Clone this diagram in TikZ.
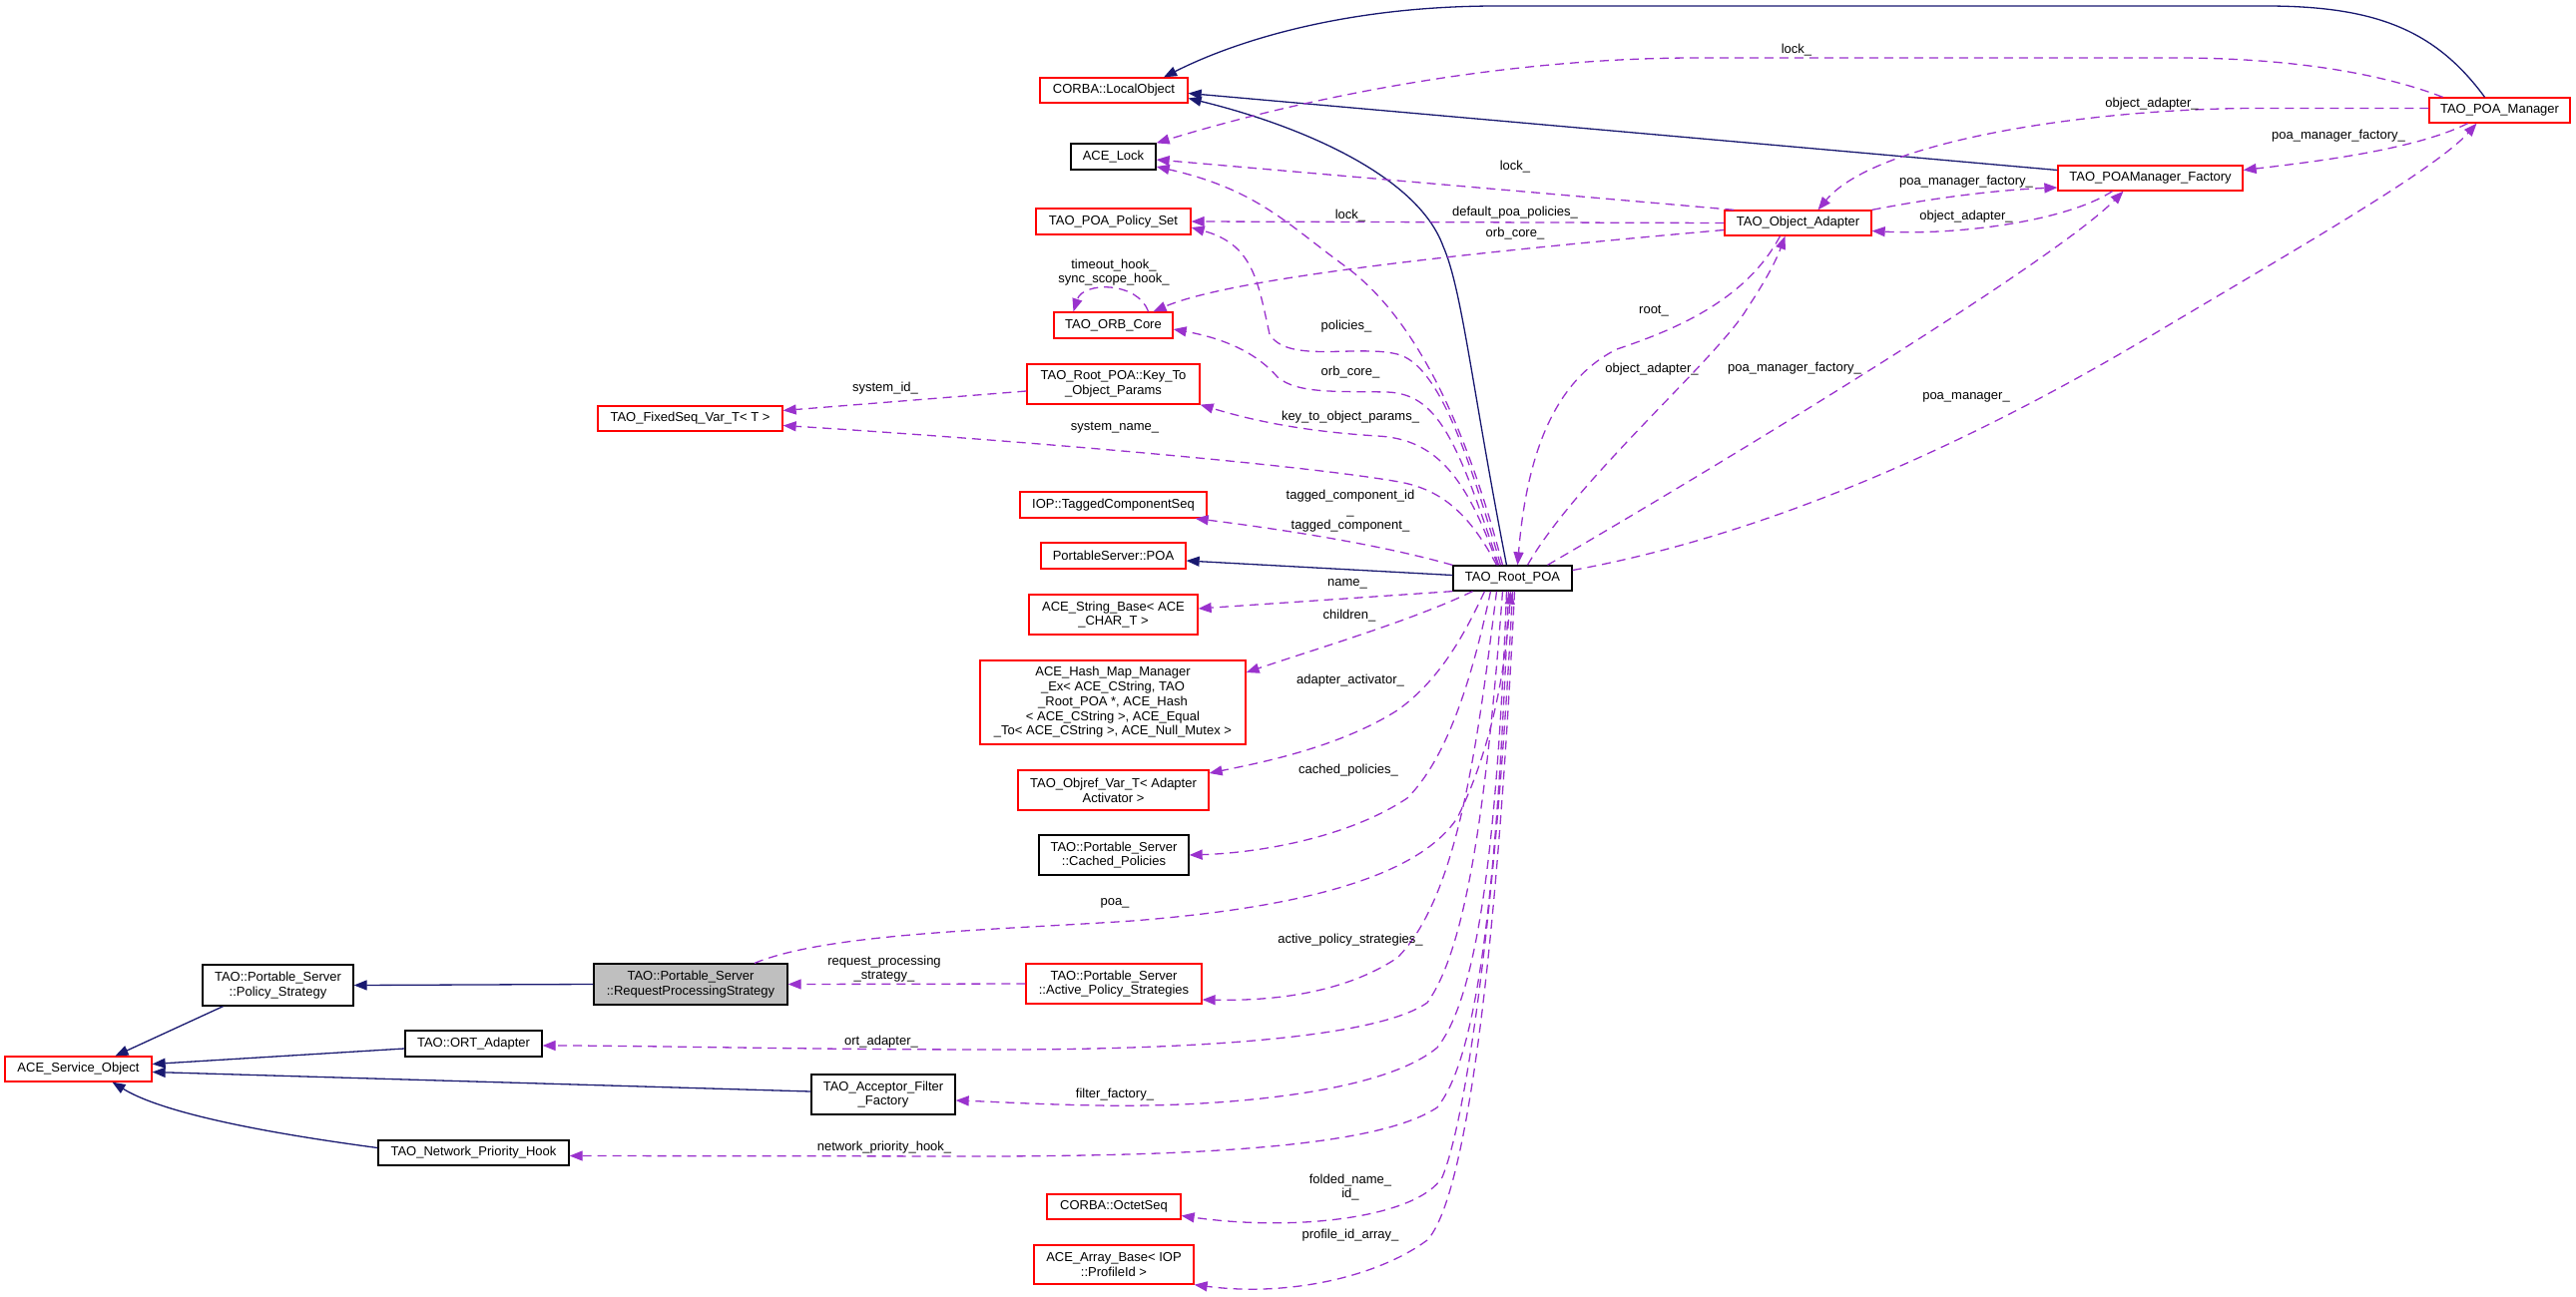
\documentclass[tikz,border=0pt]{standalone}
\usepackage{fontspec}
\setmainfont{Liberation Sans}
\usetikzlibrary{arrows.meta}
\definecolor{inhcol}{HTML}{191970}
\definecolor{usecol}{HTML}{9A32CD}
\definecolor{boxred}{HTML}{FF0000}

\begin{document}
\begin{tikzpicture}[x=1pt, y=-1pt,
    every node/.style={font=\fontsize{13}{14.7}\selectfont, inner sep=0pt, align=center},
    sz/.style 2 args={minimum width=#1pt, minimum height=#2pt},
    cls/.style={draw=boxred, line width=1.3pt, fill=white},
    doc/.style={draw=black, line width=1.3pt, fill=white},
    cur/.style={draw=black, line width=1.3pt, fill=gray!50},
    inh/.style={draw=inhcol, line width=1.3pt, -{Triangle[length=13pt,width=10pt]}},
    usage/.style={draw=usecol, line width=1.3pt, dash pattern=on 9pt off 6pt, -{Triangle[length=13pt,width=10pt]}},
    lbl/.style={text=black}]
      \useasboundingbox (0,0) rectangle (2581,1300);

      % classes
      \node[cls, sz={148}{25}] (corba) at (1116,90.5) {CORBA::LocalObject};
      \node[doc, sz={85}{26}] (lock) at (1115.5,157) {ACE\_Lock};
      \node[cls, sz={155}{26}] (polset) at (1115.5,222) {TAO\_POA\_Policy\_Set};
      \node[cls, sz={119}{26}] (orbcore) at (1115.5,326) {TAO\_ORB\_Core};
      \node[cls, sz={173}{40}] (keyto) at (1115.5,385) {TAO\_Root\_POA::Key\_To\\\_Object\_Params};
      \node[cls, sz={185}{25}] (fixedseq) at (691.5,419.5) {TAO\_FixedSeq\_Var\_T< T >};
      \node[cls, sz={187}{26}] (tagged) at (1115.5,506) {IOP::TaggedComponentSeq};
      \node[cls, sz={145}{26}] (pspoa) at (1115.5,557) {PortableServer::POA};
      \node[cls, sz={169}{40}] (strbase) at (1115.5,616) {ACE\_String\_Base< ACE\\\_CHAR\_T >};
      \node[cls, sz={266}{84}] (hashmap) at (1115,704) {ACE\_Hash\_Map\_Manager\\\_Ex< ACE\_CString, TAO\\\_Root\_POA *, ACE\_Hash\\< ACE\_CString >, ACE\_Equal\\\_To< ACE\_CString >, ACE\_Null\_Mutex >};
      \node[cls, sz={191}{40}] (objref) at (1115.5,792) {TAO\_Objref\_Var\_T< Adapter\\Activator >};
      \node[doc, sz={150}{40}] (cached) at (1116,857) {TAO::Portable\_Server\\::Cached\_Policies};
      \node[cls, sz={176}{40}] (aps) at (1116,986) {TAO::Portable\_Server\\::Active\_Policy\_Strategies};
      \node[cls, sz={134}{25}] (octet) at (1116,1209.5) {CORBA::OctetSeq};
      \node[cls, sz={160}{39}] (arraybase) at (1116,1267.5) {ACE\_Array\_Base< IOP\\::ProfileId >};
      \node[doc, sz={119}{25}] (rpoa) at (1515.5,579.5) {TAO\_Root\_POA};
      \node[cls, sz={147}{25}] (objadapt) at (1801.5,223.5) {TAO\_Object\_Adapter};
      \node[cls, sz={185}{25}] (factory) at (2154.5,178.5) {TAO\_POAManager\_Factory};
      \node[cls, sz={141}{25}] (poamgr) at (2504.5,110.5) {TAO\_POA\_Manager};
      \node[cur, sz={194}{41}] (rps) at (692,986.5) {TAO::Portable\_Server\\::RequestProcessingStrategy};
      \node[doc, sz={151}{41}] (polstrat) at (278.5,987.5) {TAO::Portable\_Server\\::Policy\_Strategy};
      \node[cls, sz={147}{25}] (svcobj) at (78.5,1071.5) {ACE\_Service\_Object};
      \node[doc, sz={137}{26}] (ort) at (474.5,1046) {TAO::ORT\_Adapter};
      \node[doc, sz={144}{40}] (acceptor) at (885,1097) {TAO\_Acceptor\_Filter\\\_Factory};
      \node[doc, sz={191}{25}] (nph) at (474.5,1155.5) {TAO\_Network\_Priority\_Hook};

      % inheritance
      \draw[inh] ([xshift=-15pt]poamgr.north) .. controls (2440,30) and (2380,6) .. (2270,6) -- (1500,6) .. controls (1350,6) and (1240,40) .. ([xshift=50pt]corba.north);
      \draw[inh] ([yshift=8pt]factory.west) -- ([yshift=-3pt]corba.east);
      \draw[inh] ([xshift=-6pt]rpoa.north) .. controls (1475,390) and (1465,290) .. (1446,247) .. controls (1420,175) and (1300,125) .. ([yshift=-8pt]corba.east);
      \draw[inh] ([yshift=3pt]rpoa.west) -- ([yshift=-5pt]pspoa.east);
      \draw[inh] (rps.west) -- (polstrat.east);
      \draw[inh] ([xshift=-55pt]polstrat.south) -- ([xshift=37pt]svcobj.north);
      \draw[inh] ([yshift=-5pt]ort.west) -- ([yshift=5pt]svcobj.east);
      \draw[inh] ([yshift=3pt]acceptor.west) -- ([yshift=-3pt]svcobj.east);
      \draw[inh] ([yshift=5pt]nph.west) .. controls (300,1140) and (170,1120) .. ([xshift=34pt]svcobj.south);

      % members
      \draw[usage] ([xshift=-57pt]poamgr.north) .. controls (2390,75) and (2300,58) .. (2180,58) -- (1700,58) .. controls (1500,58) and (1300,100) .. (lock.north east);
      \draw[usage] ([yshift=2pt]poamgr.west) -- (2262,108.5) .. controls (2100,108.5) and (1880,140) .. ([xshift=20pt]objadapt.north);
      \draw[usage] ([xshift=-32pt]poamgr.south) .. controls (2420,150) and (2320,162) .. ([yshift=8pt]factory.east);
      \draw[usage] (objadapt.north east) .. controls (1950,196) and (2010,190) .. ([yshift=-9.5pt]factory.west);
      \draw[usage] ([xshift=-38pt]factory.south) .. controls (2070,222) and (1960,236) .. ([yshift=-8pt]objadapt.east);
      \draw[usage] ([xshift=10pt]objadapt.north west) -- ([yshift=-3pt]lock.east);
      \draw[usage] (objadapt.west) -- (polset.east);
      \draw[usage] ([yshift=-7pt]objadapt.west) .. controls (1450,255) and (1230,280) .. ([xshift=40pt]orbcore.north);
      \draw[usage] ([xshift=35pt]orbcore.north) .. controls (1140,282) and (1085,282) .. ([xshift=-40pt]orbcore.north);
      \draw[usage] ([xshift=-10pt]rpoa.north) .. controls (1470,430) and (1420,320) .. (1348,267) .. controls (1290,225) and (1260,190) .. ([yshift=-10pt]lock.east);
      \draw[usage] ([xshift=-12pt]rpoa.north) .. controls (1470,450) and (1440,365) .. (1400,355) .. controls (1360,345) and (1290,365) .. (1272,335) .. controls (1260,280) and (1255,245) .. ([yshift=-6pt]polset.east);
      \draw[usage] ([xshift=-14pt]rpoa.north) .. controls (1460,440) and (1440,395) .. (1390,393) .. controls (1340,392) and (1300,395) .. (1280,378) .. controls (1260,355) and (1230,340) .. ([yshift=-4pt]orbcore.east);
      \draw[usage] ([xshift=-15pt]rpoa.north) .. controls (1470,480) and (1440,440) .. (1380,437) .. controls (1300,432) and (1250,420) .. (keyto.south east);
      \draw[usage] ([yshift=-7pt]keyto.west) -- ([yshift=8pt]fixedseq.east);
      \draw[usage] ([xshift=-16pt]rpoa.north) .. controls (1470,510) and (1440,490) .. (1402,483) .. controls (1300,465) and (1000,440) .. ([yshift=-7pt]fixedseq.east);
      \draw[usage] (rpoa.north west) .. controls (1380,545) and (1280,530) .. ([xshift=-12pt]tagged.south east);
      \draw[usage] (rpoa.south west) -- ([yshift=6pt]strbase.east);
      \draw[usage] ([xshift=-40pt]rpoa.south) .. controls (1420,620) and (1320,650) .. ([yshift=30pt]hashmap.east);
      \draw[usage] ([xshift=-28pt]rpoa.south) .. controls (1470,630) and (1445,680) .. (1400,712) .. controls (1340,750) and (1260,765) .. ([yshift=17pt]objref.east);
      \draw[usage] ([xshift=-22pt]rpoa.south) .. controls (1475,680) and (1450,760) .. (1410,800) .. controls (1350,840) and (1260,855) .. (cached.east);
      \draw[usage] ([xshift=64pt]rps.north) .. controls (830,935) and (1000,932) .. (1134,923) .. controls (1300,910) and (1420,880) .. (1460,820) .. controls (1500,740) and (1510,650) .. ([xshift=-2pt]rpoa.south);
      \draw[usage] (aps.west) -- (rps.east);
      \draw[usage] ([xshift=-16pt]rpoa.south) .. controls (1480,750) and (1460,900) .. (1400,960) .. controls (1340,1000) and (1260,1003) .. ([yshift=-16pt]aps.east);
      \draw[usage] ([xshift=-10pt]rpoa.south) .. controls (1490,800) and (1470,950) .. (1430,1005) .. controls (1380,1040) and (1200,1052) .. (1000,1052) .. controls (800,1052) and (650,1048) .. ([yshift=-2pt]ort.east);
      \draw[usage] ([xshift=-6pt]rpoa.south) .. controls (1500,850) and (1480,1000) .. (1440,1050) .. controls (1380,1100) and (1200,1110) .. (1100,1108) .. controls (1040,1107) and (990,1104) .. ([yshift=-6pt]acceptor.east);
      \draw[usage] ([xshift=-4pt]rpoa.south) .. controls (1500,900) and (1480,1060) .. (1440,1110) .. controls (1380,1150) and (1200,1158) .. (1000,1159) -- ([yshift=-3pt]nph.east);
      \draw[usage] (rpoa.south) .. controls (1500,900) and (1470,1120) .. (1445,1180) .. controls (1420,1220) and (1300,1235) .. ([yshift=-9pt]octet.east);
      \draw[usage] ([xshift=2pt]rpoa.south) .. controls (1500,950) and (1470,1200) .. (1430,1243) .. controls (1380,1280) and (1290,1300) .. (arraybase.south east);
      \draw[usage] ([xshift=-18pt]objadapt.south) .. controls (1750,300) and (1680,330) .. (1620,350) .. controls (1560,380) and (1530,450) .. ([xshift=5pt]rpoa.north);
      \draw[usage] ([xshift=15pt]rpoa.north) .. controls (1580,480) and (1720,360) .. (1750,310) .. controls (1770,280) and (1780,260) .. ([xshift=-13pt]objadapt.south);
      \draw[usage] ([xshift=35pt]rpoa.north) .. controls (1750,450) and (2060,260) .. ([xshift=-27pt]factory.south);
      \draw[usage] ([yshift=8pt]rpoa.east) .. controls (1750,540) and (1950,460) .. (2166,330) .. controls (2300,250) and (2440,170) .. ([xshift=-23pt]poamgr.south);

      % labels
      \node[lbl] (l1) at (1800,50) {lock\_};
      \node[lbl] (l2) at (2156,104) {object\_adapter\_};
      \node[lbl] (l3) at (2343,136) {poa\_manager\_factory\_};
      \node[lbl] (l4) at (1970,182) {poa\_manager\_factory\_};
      \node[lbl] (l5) at (1970,217) {object\_adapter\_};
      \node[lbl] (l6) at (1518,167) {lock\_};
      \node[lbl] (l7) at (1353,216) {lock\_};
      \node[lbl] (l8) at (1518,213) {default\_poa\_policies\_};
      \node[lbl] (l9) at (1518,234) {orb\_core\_};
      \node[lbl] (l10) at (1116,273) {timeout\_hook\_\\sync\_scope\_hook\_};
      \node[lbl] (l11) at (1657,312) {root\_};
      \node[lbl] (l12) at (1349,327) {policies\_};
      \node[lbl] (l13) at (1353,373) {orb\_core\_};
      \node[lbl] (l14) at (1655,370) {object\_adapter\_};
      \node[lbl] (l15) at (1798,369) {poa\_manager\_factory\_};
      \node[lbl] (l16) at (1970,398) {poa\_manager\_};
      \node[lbl] (l17) at (887,389) {system\_id\_};
      \node[lbl] (l18) at (1353,418) {key\_to\_object\_params\_};
      \node[lbl] (l19) at (1117,429) {system\_name\_};
      \node[lbl] (l20) at (1353,512) {tagged\_component\_id\\\_\\tagged\_component\_};
      \node[lbl] (l21) at (1350,585) {name\_};
      \node[lbl] (l22) at (1352,617) {children\_};
      \node[lbl] (l23) at (1353,682) {adapter\_activator\_};
      \node[lbl] (l24) at (1351,772) {cached\_policies\_};
      \node[lbl] (l25) at (1117,905) {poa\_};
      \node[lbl] (l26) at (1353,942) {active\_policy\_strategies\_};
      \node[lbl] (l27) at (886,971) {request\_processing\\\_strategy\_};
      \node[lbl] (l28) at (883,1044) {ort\_adapter\_};
      \node[lbl] (l29) at (1117,1097) {filter\_factory\_};
      \node[lbl] (l30) at (886,1150) {network\_priority\_hook\_};
      \node[lbl] (l31) at (1353,1190) {folded\_name\_\\id\_};
      \node[lbl] (l32) at (1353,1238) {profile\_id\_array\_};
\end{tikzpicture}
\end{document}
